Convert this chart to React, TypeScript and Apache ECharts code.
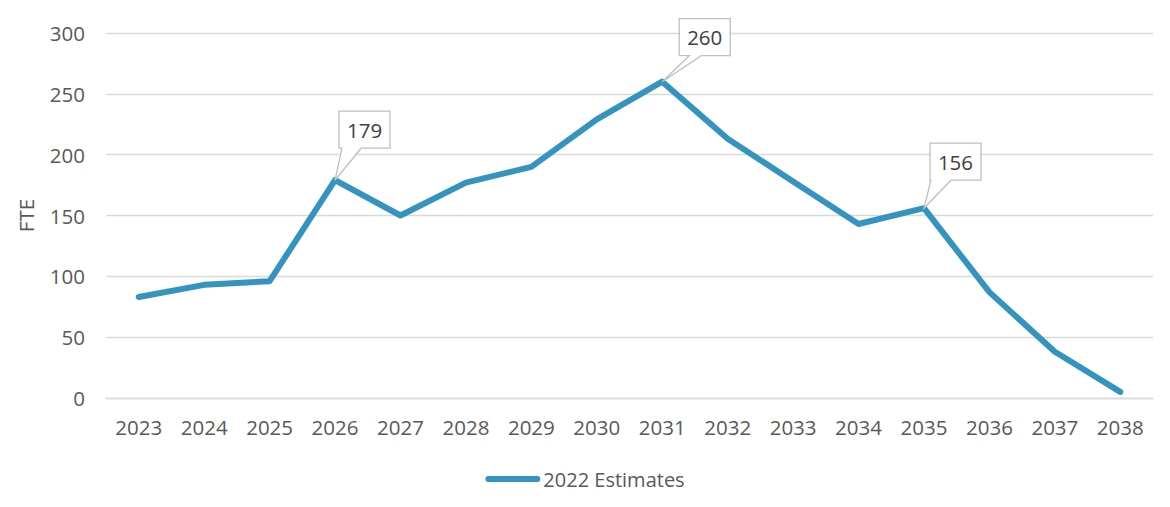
import React, { useEffect, useRef } from "react";
import * as echarts from "echarts";

const years = ["2023","2024","2025","2026","2027","2028","2029","2030","2031","2032","2033","2034","2035","2036","2037","2038"];
const estimates = [83, 93, 96, 179, 150, 177, 190, 229, 260, 213, 178, 143, 156, 87, 38, 5];
const seriesName = "2022 Estimates";
const calloutYears = ["2026", "2031", "2035"];
const yTicks = { min: 0, max: 300, interval: 50 };

const FONT = "'Open Sans', 'Noto Sans', sans-serif";
const TEXT = "#595959";
const LINE = "#3494BF";

// callout box layout relative to the data point (px): left, bottom, tail base start/end
const calloutLayout: Record<string, { l: number; b: number; a: number; c: number }> = {
  "2026": { l: 4, b: -32, a: 7, c: 26 },
  "2031": { l: 17, b: -26, a: 27, c: 39 },
  "2035": { l: 6, b: -28, a: 7, c: 27 },
};

export default function App() {
  const ref = useRef<HTMLDivElement>(null);
  useEffect(() => {
    if (!ref.current) return;
    const chart = echarts.init(ref.current, null, { renderer: "svg" });
    const calloutData = calloutYears.map((y) => {
      const i = years.indexOf(y);
      return [i, estimates[i]];
    });
    chart.setOption({
      animation: false,
      backgroundColor: "#ffffff",
      textStyle: { fontFamily: FONT },
      grid: { left: 106, right: 17, top: 33, bottom: 109, containLabel: false },
      legend: {
        data: [seriesName],
        bottom: 13,
        left: "center",
        itemWidth: 55,
        itemHeight: 6,
        itemGap: 20,
        icon: "path://M3,0 H52 A3,3 0 0 1 52,6 H3 A3,3 0 0 1 3,0 Z",
        textStyle: { color: TEXT, fontSize: 20, fontFamily: FONT, padding: [0, 0, 0, -2] },
      },
      xAxis: {
        type: "category",
        data: years,
        boundaryGap: true,
        axisLine: { show: true, lineStyle: { color: "#D9D9D9", width: 1.3 } },
        axisTick: { show: false },
        axisLabel: { color: TEXT, fontSize: 20.5, fontFamily: FONT, margin: 18 },
      },
      yAxis: {
        type: "value",
        min: yTicks.min,
        max: yTicks.max,
        interval: yTicks.interval,
        name: "FTE",
        nameLocation: "middle",
        nameRotate: 90,
        nameGap: 70,
        nameTextStyle: { color: TEXT, fontSize: 20.5, fontFamily: FONT },
        axisLine: { show: false },
        axisTick: { show: false },
        axisLabel: { color: TEXT, fontSize: 20.5, fontFamily: FONT, margin: 21 },
        splitLine: { lineStyle: { color: "#D9D9D9", width: 1.3 } },
      },
      series: [
        {
          name: seriesName,
          type: "line",
          data: estimates,
          symbol: "none",
          itemStyle: { color: LINE },
          lineStyle: { color: LINE, width: 6, cap: "round", join: "round" },
          z: 2,
        },
        {
          type: "custom",
          coordinateSystem: "cartesian2d",
          data: calloutData,
          z: 5,
          silent: true,
          renderItem: (params: any, api: any) => {
            const idx = api.value(0);
            const val = api.value(1);
            const pt = api.coord([idx, val]);
            const lay = calloutLayout[years[idx]];
            const w = 51;
            const h = 37;
            const L = lay.l, R = lay.l + w, B = lay.b, T = lay.b - h;
            const points = [
              [L, T], [R, T], [R, B], [lay.c, B], [0, 0], [lay.a, B], [L, B],
            ].map(([x, y]) => [pt[0] + x, pt[1] + y]);
            return {
              type: "group",
              children: [
                {
                  type: "polygon",
                  shape: { points },
                  style: { fill: "#ffffff", stroke: "#BFBFBF", lineWidth: 1.3 },
                },
                {
                  type: "text",
                  x: pt[0] + L + w / 2,
                  y: pt[1] + T + h / 2,
                  style: {
                    text: String(val),
                    fill: "#404040",
                    fontSize: 20.5,
                    fontFamily: FONT,
                    align: "center",
                    verticalAlign: "middle",
                  },
                },
              ],
            };
          },
        },
      ],
    });
    return () => chart.dispose();
  }, []);
  return (
    <div
      ref={ref}
      style={{ position: "absolute", left: 0, top: 0, width: 1170, height: 507 }}
    />
  );
}
